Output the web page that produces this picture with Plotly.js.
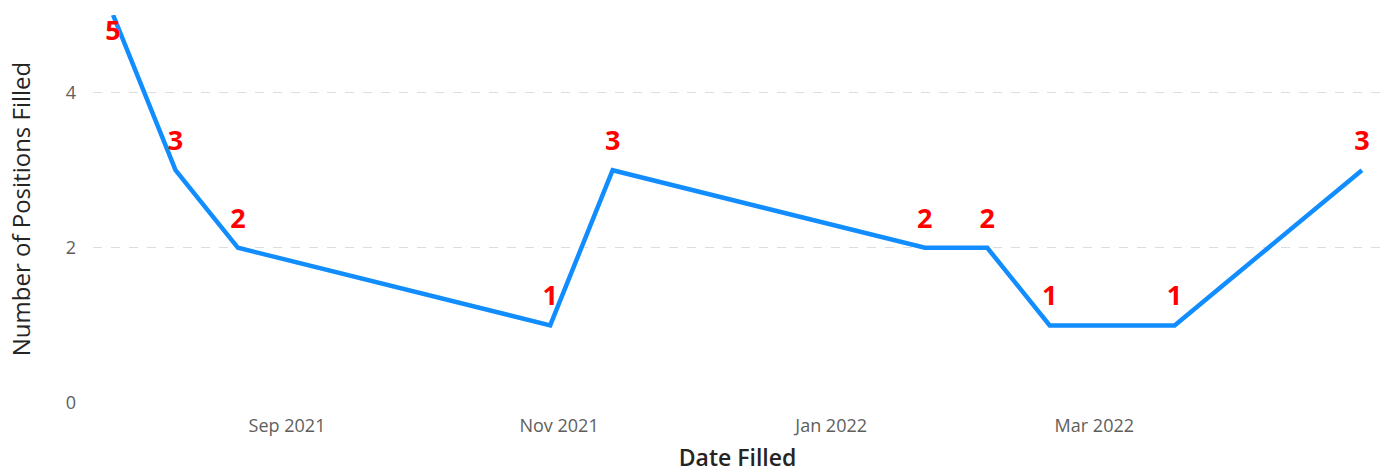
<!DOCTYPE html>
<html>
<head>
<meta charset="utf-8">
<script src="https://cdn.plot.ly/plotly-3.0.1.min.js"></script>
<style>
html,body{margin:0;padding:0;background:#fff;}
#chart{width:1393px;height:473px;}
</style>
</head>
<body>
<div id="chart"></div>
<script>
const dates = ['2021-07-24','2021-08-07','2021-08-21','2021-10-30','2021-11-13','2022-01-22','2022-02-05','2022-02-19','2022-03-19','2022-04-30'];
const positions = [5,3,2,1,3,2,2,1,1,3];
const labelPos = positions.map((v,i)=> i===0 ? 'bottom center' : 'top center');

const trace = {
  x: dates,
  y: positions,
  type: 'scatter',
  mode: 'lines+markers+text',
  text: positions.map(String),
  textposition: labelPos,
  textfont: {family: 'Open Sans, sans-serif', size: 27, color: '#FF0000', weight: 'bold'},
  line: {color: '#118DFF', width: 4.5},
  marker: {size: positions.map((v,i)=> i===0 ? 6 : 20), opacity: 0, color: '#118DFF'},
  cliponaxis: false,
  hoverinfo: 'x+y'
};

const layout = {
  width: 1393, height: 473,
  margin: {l: 93, r: 11, t: 15, b: 70},
  paper_bgcolor: '#fff', plot_bgcolor: '#fff',
  showlegend: false,
  font: {family: 'Open Sans, sans-serif'},
  xaxis: {
    type: 'date',
    range: ['2021-07-19 12:00', '2022-05-04 12:00'],
    tick0: '2021-09-01', dtick: 'M2',
    tickformat: '%b %Y',
    showgrid: false, zeroline: false, showline: false,
    ticks: '',
    ticklabelstandoff: 10,
    tickfont: {size: 18, color: '#605E5C'},
    title: {text: 'Date Filled', font: {size: 23, color: '#252423', weight: 600}, standoff: 15}
  },
  yaxis: {
    range: [0, 5],
    tickvals: [0, 2, 4],
    showgrid: true, gridcolor: '#DDDDDD', griddash: 'dash', gridwidth: 1,
    zeroline: false, showline: false,
    ticks: '',
    ticklabelstandoff: 16,
    tickfont: {size: 18, color: '#605E5C'},
    title: {text: 'Number of Positions Filled', font: {size: 24, color: '#252423'}, standoff: 28}
  }
};

Plotly.newPlot('chart', [trace], layout, {displayModeBar: false, staticPlot: true});
</script>
</body>
</html>
